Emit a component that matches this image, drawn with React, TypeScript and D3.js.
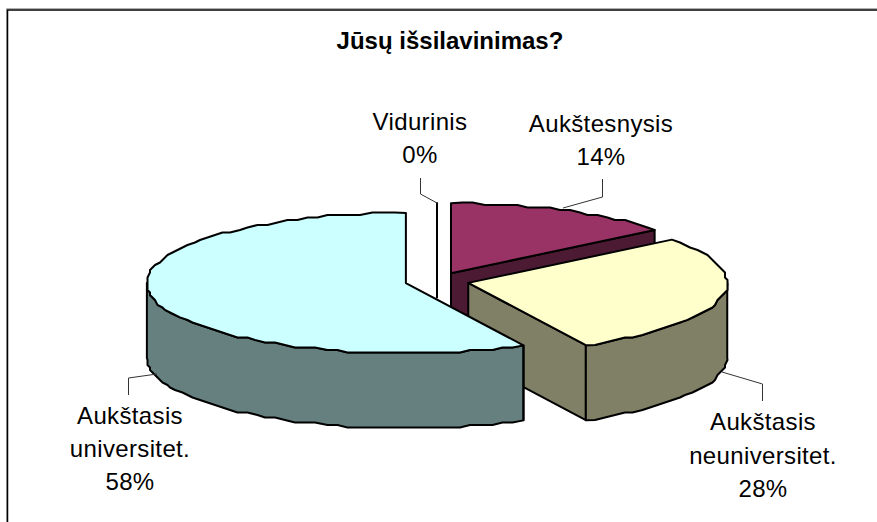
import React from "react";
import * as d3 from "d3";

const title = "Jūsų išsilavinimas?";
const categories = ["Vidurinis", "Aukštesnysis", "Aukštasis neuniversitet.", "Aukštasis universitet."];
const shareValues = [0, 14.4, 28.1, 57.5];
const shareLabels = ["0%", "14%", "28%", "58%"];
const topColors = ["#ffffff", "#993366", "#ffffcc", "#ccffff"];
const wallColors = ["#808080", "#4d1a33", "#808066", "#668080"];

const labelLayout = [
  { lines: ["Vidurinis", "0%"], x: 420, y: 130, dy: 33, leader: [[420.5, 178], [420.5, 194], [437, 203]] },
  { lines: ["Aukštesnysis", "14%"], x: 601, y: 132, dy: 33, leader: [[602.5, 179], [602.5, 197], [563, 208]] },
  { lines: ["Aukštasis", "neuniversitet.", "28%"], x: 763, y: 430, dy: 33.5, leader: [[722, 372], [762.5, 384], [762.5, 401]] },
  { lines: ["Aukštasis", "universitet.", "58%"], x: 130, y: 424, dy: 33, leader: [[157, 374], [128.5, 378], [128.5, 395]] },
];

const CX = 437, CY = 281, RX = 259, RY = 70, DEPTH = 75, EXPLODE = 32 / 259, GRID = 2.5;
const FONT = "'Liberation Sans', Arial, sans-serif";

const pieGen = d3.pie<number>().sort(null).value((d) => d);
const arcs = pieGen(shareValues);
const project = (a: number, r: number, c: [number, number]): [number, number] => [
  c[0] + RX * r * Math.sin(a),
  c[1] - RY * r * Math.cos(a),
];
// The source renderer snaps its rim to a coarse grid, which gives the wavy outline.
const snap = (p: [number, number]): [number, number] => [
  Math.round(p[0] / GRID) * GRID,
  Math.round(p[1] / GRID) * GRID,
];
const sample = (a0: number, a1: number, c: [number, number]) => {
  const n = Math.max(1, Math.round(Math.abs(a1 - a0) / (Math.PI / 72)));
  return d3.range(n + 1).map((i) => {
    const p = project(a0 + ((a1 - a0) * i) / n, 1, c);
    return i === 0 || i === n ? p : snap(p);
  });
};
const line = d3.line();
const shift = (pts: [number, number][]) => pts.map(([x, y]) => [x, y + DEPTH] as [number, number]);

const slices = arcs.map((arc, i) => {
  const mid = (arc.startAngle + arc.endAngle) / 2;
  const c: [number, number] = [
    CX + RX * EXPLODE * (arc.value === 0 ? 0 : Math.sin(mid)),
    CY - RY * EXPLODE * (arc.value === 0 ? 1 : Math.cos(mid)),
  ];
  return { arc, c, i };
});

function Slice({ s }: { s: (typeof slices)[number] }) {
  const { arc, c, i } = s;
  const a0 = arc.startAngle, a1 = arc.endAngle;
  const stroke = { stroke: "#000", strokeWidth: 2, strokeLinejoin: "round" as const };
  if (a1 - a0 === 0) {
    const top = project(a0, 1, c);
    return <path d={line([top, [top[0], c[1] + 26]]) as string} fill="none" {...stroke} />;
  }
  const rim = sample(a0, a1, c);
  const parts: React.ReactNode[] = [];
  const cutEnd = project(a1, 1, c);
  if (Math.sin(a1) > 0 && i < 3) {
    const face: [number, number][] = [c, cutEnd, [cutEnd[0], cutEnd[1] + DEPTH], [c[0], c[1] + DEPTH]];
    parts.push(<path key="cut" d={line(face) + "Z"} fill={wallColors[i]} {...stroke} />);
  }
  const vis0 = Math.max(a0, Math.PI / 2);
  const vis1 = Math.min(a1, (3 * Math.PI) / 2);
  if (vis1 > vis0) {
    const rimVis = sample(vis0, vis1, c);
    const wall = [...rimVis, ...shift(rimVis).reverse()];
    parts.push(<path key="wall" d={line(wall) + "Z"} fill={wallColors[i]} {...stroke} />);
  }
  if (i === 3) {
    const st = project(a0, 1, c);
    parts.push(<path key="edge" d={line([st, [st[0], st[1] + DEPTH]]) as string} fill="none" {...stroke} />);
  }
  parts.push(<path key="top" d={line([c, ...rim]) + "Z"} fill={topColors[i]} {...stroke} />);
  return <g>{parts}</g>;
}

export default function App() {
  return (
    <svg width={877} height={522} style={{ position: "absolute", left: 0, top: 0, background: "#fff" }} fontFamily={FONT}>
      <rect x={0} y={0} width={877} height={522} fill="#fff" />
      <path d="M6.5,522V8.5H877" fill="none" stroke="#b0b0b0" strokeWidth={1} />
      <path d="M7.5,522V10H877" fill="none" stroke="#000" strokeWidth={1.5} />
      <text x={450} y={49} textAnchor="middle" fontSize={24} fontWeight="bold" fill="#000">{title}</text>
      {slices.map((s) => <Slice key={categories[s.i]} s={s} />)}
      {labelLayout.map((l, i) => (
        <g key={categories[i]}>
          <path d={line(l.leader as [number, number][]) as string} fill="none" stroke="#333" strokeWidth={1} />
          {l.lines.map((t, j) => (
            <text key={j} x={l.x} y={l.y + j * l.dy} textAnchor="middle" fontSize={24} letterSpacing={0.35} fill="#000">
              {j === l.lines.length - 1 ? shareLabels[i] : t}
            </text>
          ))}
        </g>
      ))}
    </svg>
  );
}
